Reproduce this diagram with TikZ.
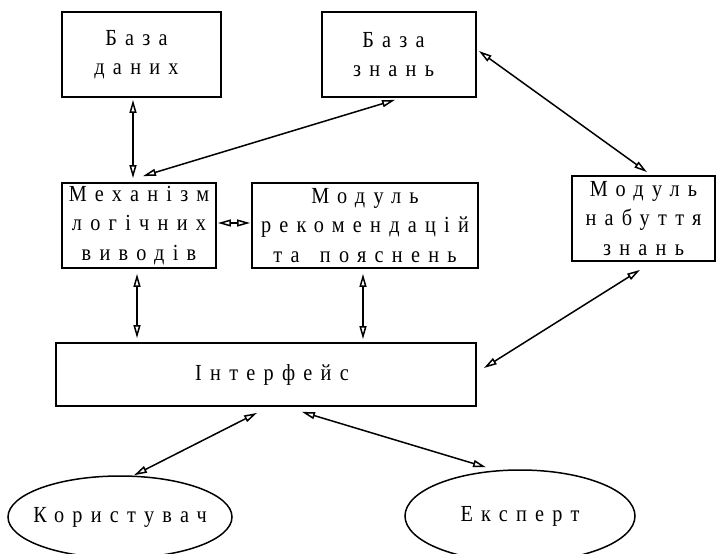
\documentclass[tikz,border=0pt]{standalone}
\usepackage{fontspec}
\setmainfont{Liberation Serif}[LetterSpace=36, FakeStretch=0.88]
\usetikzlibrary{arrows.meta,shapes.geometric,calc}

\begin{document}
\begin{tikzpicture}[x=1pt,y=-1pt,
  every node/.style={font=\fontsize{23}{29.5}\selectfont, align=center, inner sep=0pt},
  block/.style={draw, line width=1.8pt, rectangle},
  actor/.style={draw, line width=1.5pt, ellipse},
  link/.style={line width=1.5pt, {Triangle[open,length=13pt,width=7pt]}-{Triangle[open,length=13pt,width=7pt]}}
]
\useasboundingbox (0,0) rectangle (716,554);

% knowledge sources
\node[block, minimum width=159pt, minimum height=85pt] (bd) at (141.5,54.5) {База\hspace*{10pt}\\даних\hspace*{10pt}};
\node[block, minimum width=154pt, minimum height=85pt] (bz) at (399,54.5) {База\hspace*{11pt}\\знань\hspace*{11pt}};

% processing modules
\node[block, minimum width=154pt, minimum height=85pt] (mech) at (139,225.5) {Механізм\\логічних\hspace*{12pt}\\виводів};
\node[block, minimum width=226pt, minimum height=85pt] (rec) at (365,225.5) {Модуль\\рекомендацій\\та\hspace{7pt} пояснень};
\node[block, minimum width=143pt, minimum height=85pt] (nab) at (643.5,218.5) {Модуль\\набуття\\знань};

% interface and its users
\node[block, minimum width=420pt, minimum height=63pt] (intf) at (266,374.5) {\hspace*{12pt}Інтерфейс};
\node[actor, minimum width=224pt, minimum height=82pt, label=center:{Користувач}] (user) at (120,517) {};
\node[actor, minimum width=230pt, minimum height=92pt, label=center:{Експерт}] (exp) at (520,516) {};

% connections
\draw[link] ($(bd.south)+(-8.5,2)$) -- ($(mech.north)+(-6,-4)$);
\draw[link] ($(bz.south)+(-4,2)$) -- ($(mech.north)+(4,-6)$);
\draw[link] ($(mech.east)+(1,-2.5)$) -- ($(rec.west)+(-1,-2.5)$);
\draw[link] ($(bz.east)+(2,-3.5)$) -- ($(nab.north)+(3.5,-3)$);
\draw[link] ($(nab.south)+(-3.5,8)$) -- ($(intf.east)+(7,-6.5)$);
\draw[link] ($(mech.south)+(-2,5)$) -- ($(mech.south |- intf.north)+(-2,-4)$);
\draw[link] ($(rec.south)+(-2,5)$) -- ($(rec.south |- intf.north)+(-2,-3)$);
\draw[link] ($(intf.south)+(-9,6)$) -- ($(user.north)+(14,0)$);
\draw[link] ($(intf.south)+(36,5)$) -- ($(exp.north)+(-34,-2)$);
\end{tikzpicture}
\end{document}
